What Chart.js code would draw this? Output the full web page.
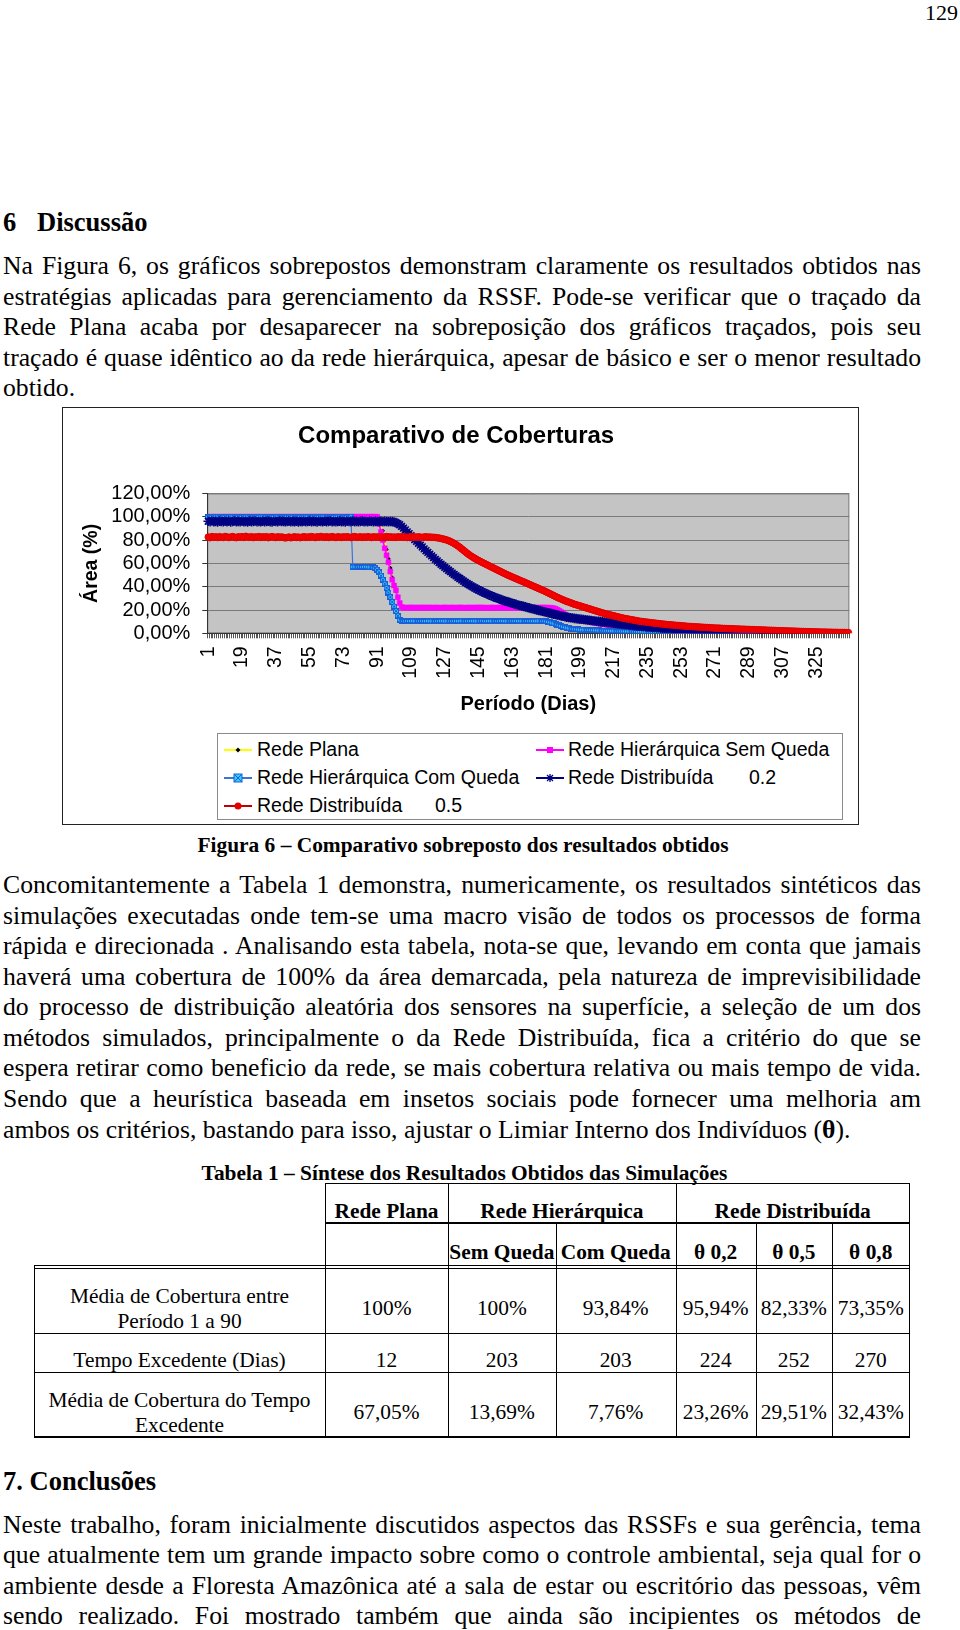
<!DOCTYPE html>
<html lang="pt">
<head>
<meta charset="utf-8">
<title>Comparativo de Coberturas</title>
<script src="https://cdn.jsdelivr.net/npm/chart.js@4.4.1/dist/chart.umd.min.js"></script>
<style>
  body { margin: 0; background: #fff; }
  #page { position: relative; width: 960px; height: 1630px; overflow: hidden; color: #000;
          font-family: "Liberation Serif", "Times New Roman", serif; }
  .ln { position: absolute; left: 3px; width: 918px; font-size: 25.7px; line-height: 1.15; transform: translateY(-50%); }
  .j { text-align: justify; text-align-last: justify; }
  .h { position: absolute; left: 3px; font-size: 26.5px; font-weight: bold; line-height: 1.15; transform: translateY(-50%); white-space: pre; }
  .cap { position: absolute; font-size: 21.4px; font-weight: bold; line-height: 1.15; transform: translate(-50%, -50%); white-space: nowrap; }
  #chartBox { position: absolute; left: 62px; top: 407px; width: 797px; height: 418px; box-sizing: border-box; border: 1px solid #222; }
  #chartWrap { position: absolute; left: 0; top: 0; width: 795px; height: 320px; }
  #legend { position: absolute; left: 217px; top: 733px; width: 626px; height: 87px; box-sizing: border-box; border: 1px solid #8a8a8a; }
  .lg { position: absolute; font-family: "Liberation Sans", Arial, sans-serif; font-size: 19.5px; line-height: 1; transform: translateY(-50%); white-space: nowrap; }
  .sym { position: absolute; width: 28px; height: 14px; transform: translateY(-50%); }
  .tl { position: absolute; background: #000; }
  .tc { position: absolute; font-size: 21.4px; line-height: 1.15; transform: translate(-50%, -50%); white-space: nowrap; text-align: center; }
  .tb { font-weight: bold; }
</style>
</head>
<body>
<div id="page">
  <div style="position:absolute; right:2px; top:0; font-size:22px; line-height:1.15;">129</div>

  <div class="h" style="top:221.5px;">6</div>
  <div class="h" style="top:221.5px; left:37px;">Discussão</div>
  <div class="ln j" style="top:266.3px;">Na Figura 6, os gráficos sobrepostos demonstram claramente os resultados obtidos nas</div>
  <div class="ln j" style="top:296.6px;">estratégias aplicadas para gerenciamento da RSSF. Pode-se verificar que o traçado da</div>
  <div class="ln j" style="top:327.3px;">Rede Plana acaba por desaparecer na sobreposição dos gráficos traçados, pois seu</div>
  <div class="ln j" style="top:357.8px;">traçado é quase idêntico ao da rede hierárquica, apesar de básico e ser o menor resultado</div>
  <div class="ln" style="top:388.2px;">obtido.</div>

  <div id="chartBox">
    <div id="chartWrap"><canvas id="coberturaChart"></canvas></div>
  </div>

  <div id="legend"></div>
  <!-- legend entries, page coordinates -->
  <svg class="sym" style="left:224px; top:750px;" viewBox="0 0 28 14"><line x1="0" y1="7" x2="28" y2="7" stroke="#ffff00" stroke-width="2"/><path d="M14 4.5 L16.5 7 L14 9.5 L11.5 7 Z" fill="#000"/></svg>
  <div class="lg" style="left:257px; top:750px;">Rede Plana</div>
  <svg class="sym" style="left:536px; top:750px;" viewBox="0 0 28 14"><line x1="0" y1="7" x2="28" y2="7" stroke="#ff00ff" stroke-width="2"/><rect x="11" y="4" width="6" height="6" fill="#ff00ff"/></svg>
  <div class="lg" style="left:568px; top:750px;">Rede Hierárquica Sem Queda</div>
  <svg class="sym" style="left:224px; top:778px;" viewBox="0 0 28 14"><line x1="0" y1="7" x2="28" y2="7" stroke="#3a74d8" stroke-width="2"/><rect x="10" y="3" width="8" height="8" fill="#33ccff" stroke="#1a5fd6" stroke-width="1"/><path d="M10 3 L18 11 M18 3 L10 11" stroke="#1a5fd6" stroke-width="1"/></svg>
  <div class="lg" style="left:257px; top:778px;">Rede Hierárquica Com Queda</div>
  <svg class="sym" style="left:536px; top:778px;" viewBox="0 0 28 14"><line x1="0" y1="7" x2="28" y2="7" stroke="#000080" stroke-width="2"/><path d="M14 3 L14 11 M10 7 L18 7 M11 4 L17 10 M17 4 L11 10" stroke="#000080" stroke-width="1.3"/></svg>
  <div class="lg" style="left:568px; top:778px;">Rede Distribuída</div>
  <div class="lg" style="left:749px; top:778px;">0.2</div>
  <svg class="sym" style="left:224px; top:806px;" viewBox="0 0 28 14"><line x1="0" y1="7" x2="28" y2="7" stroke="#c00000" stroke-width="2"/><circle cx="14" cy="7" r="3.5" fill="#e00000"/></svg>
  <div class="lg" style="left:257px; top:806px;">Rede Distribuída</div>
  <div class="lg" style="left:435px; top:806px;">0.5</div>

  <div class="cap" style="left:463px; top:845px;">Figura 6 – Comparativo sobreposto dos resultados obtidos</div>

  <div class="ln j" style="top:885px;">Concomitantemente a Tabela 1 demonstra, numericamente, os resultados sintéticos das</div>
  <div class="ln j" style="top:915.5px;">simulações executadas onde tem-se uma macro visão de todos os processos de forma</div>
  <div class="ln j" style="top:946.3px;">rápida e direcionada . Analisando esta tabela, nota-se que, levando em conta que jamais</div>
  <div class="ln j" style="top:976.8px;">haverá uma cobertura de 100% da área demarcada, pela natureza de imprevisibilidade</div>
  <div class="ln j" style="top:1007.2px;">do processo de distribuição aleatória dos sensores na superfície, a seleção de um dos</div>
  <div class="ln j" style="top:1037.9px;">métodos simulados, principalmente o da Rede Distribuída, fica a critério do que se</div>
  <div class="ln j" style="top:1068.3px;">espera retirar como beneficio da rede, se mais cobertura relativa ou mais tempo de vida.</div>
  <div class="ln j" style="top:1099.1px;">Sendo que a heurística baseada em insetos sociais pode fornecer uma melhoria am</div>
  <div class="ln" style="top:1129.6px;">ambos os critérios, bastando para isso, ajustar o Limiar Interno dos Indivíduos (<b>θ</b>).</div>

  <div class="cap" style="left:464.5px; top:1172.7px;">Tabela 1 – Síntese dos Resultados Obtidos das Simulações</div>
  <div id="table"></div>

  <div class="h" style="top:1481px;">7. Conclusões</div>
  <div class="ln j" style="top:1524.8px;">Neste trabalho, foram inicialmente discutidos aspectos das RSSFs e sua gerência, tema</div>
  <div class="ln j" style="top:1555.2px;">que atualmente tem um grande impacto sobre como o controle ambiental, seja qual for o</div>
  <div class="ln j" style="top:1585.8px;">ambiente desde a Floresta Amazônica até a sala de estar ou escritório das pessoas, vêm</div>
  <div class="ln j" style="top:1616.3px;">sendo realizado. Foi mostrado também que ainda são incipientes os métodos de</div>
</div>

<script>
// ---- chart data (Área % per day) ----
const days = Array.from({ length: 342 }, (_, k) => String(k + 1));
const tickDays = [1, 19, 37, 55, 73, 91, 109, 127, 145, 163, 181, 199, 217, 235, 253, 271, 289, 307, 325];
const yTicks = [0, 20, 40, 60, 80, 100, 120];

const redePlana = [
  100,100,100,100,100,100,100,100,100,100,
  100,100,100,100,100,100,100,100,100,100,
  100,100,100,100,100,100,100,100,100,100,
  100,100,100,100,100,100,100,100,100,100,
  100,100,100,100,100,100,100,100,100,100,
  100,100,100,100,100,100,100,100,100,100,
  100,100,100,100,100,100,100,100,100,100,
  100,100,100,100,100,100,100,100,100,100,
  100,100,100,100,100,100,100,100,100,100,
  100,99,95,88,80,72,64,56,48,42,
  36,31
];

const hierSemQueda = [
  100,100,100,100,100,100,100,100,100,100,
  100,100,100,100,100,100,100,100,100,100,
  100,100,100,100,100,100,100,100,100,100,
  100,100,100,100,100,100,100,100,100,100,
  100,100,100,100,100,100,100,100,100,100,
  100,100,100,100,100,100,100,100,100,100,
  100,100,100,100,100,100,100,100,100,100,
  100,100,100,100,100,100,100,100,100,100,
  100,100,100,100,100,100,100,100,100,100,
  100,94,87,80,73,67,61,53,46,41,
  37,31,26,22.5,22,22.1,21.9,22,22.2,22,
  22,21.9,22.1,22,22,22.2,21.9,22,22.1,22,
  21.9,22,22.1,22,21.8,22,22.2,22,21.9,22,
  22.1,22,21.9,22,22.2,22,22,21.8,22,22.1,
  22,21.9,22,22.1,22,22.2,21.9,22,22,21.8,
  22,22.1,22,21.9,22,22.2,22,21.9,22.1,22,
  21.9,22,22.1,22,21.8,22,22.2,22,21.9,22,
  22.1,22,21.9,22,22,22.1,21.9,22,22.2,22,
  22,22,21.9,21.8,21.5,21,20.3,19.4,18.4,17.3,
  16.2,15.2,14.4,13.7,13.1,12.6,12.2,11.8,11.5,11.2,
  10.9,10.6,10.3,10,9.7,9.4,9.1,8.8,8.5,8.2,
  7.9,7.7,7.5,7.3,7.1,6.9,6.7,6.5,6.3,6.1,
  5.9,5.7,5.5,5.4,5.2,5,4.9,4.7,4.6,4.4,
  4.3,4.2,4,3.9,3.8,3.7,3.5,3.4,3.3,3.2,
  3.1,3,2.9,2.8,2.7,2.6,2.5,2.4,2.3,2.2,
  2.1,2,2,1.9,1.8,1.7,1.7,1.6,1.5,1.5,
  1.4,1.3,1.3,1.2,1.2,1.1,1,1,0.9,0.9,
  0.8,0.8,0.8,0.7,0.7,0.6,0.6,0.6,0.5,0.5,
  0.5,0.4,0.4,0.4,0.3,0.3,0.3,0.3,0.2,0.2,
  0.2,0.2,0.1
];

const hierComQueda = [
  100,100,100,100,100,100,100,100,100,100,
  100,100,100,100,100,100,100,100,100,100,
  100,100,100,100,100,100,100,100,100,100,
  100,100,100,100,100,100,100,100,100,100,
  100,100,100,100,100,100,100,100,100,100,
  100,100,100,100,100,100,100,100,100,100,
  100,100,100,100,100,100,100,100,100,100,
  100,100,100,100,100,100,100,57,57.2,56.9,
  57,57.1,56.9,57,57.2,57,56.8,57,56.5,55.8,
  54.5,52.5,49.5,46,42.5,39,35,31,27,23,
  19,15,11.5,10.6,10.5,10.4,10.6,10.5,10.5,10.7,
  10.5,10.6,10.4,10.5,10.7,10.5,10.4,10.6,10.5,10.5,
  10.6,10.4,10.5,10.5,10.7,10.6,10.4,10.5,10.6,10.5,
  10.4,10.5,10.6,10.5,10.5,10.7,10.5,10.4,10.6,10.5,
  10.5,10.6,10.5,10.4,10.5,10.6,10.7,10.5,10.4,10.5,
  10.6,10.5,10.4,10.6,10.5,10.5,10.7,10.6,10.4,10.5,
  10.5,10.4,10.6,10.5,10.7,10.5,10.5,10.4,10.6,10.5,
  10.6,10.5,10.5,10.4,10.6,10.5,10.7,10.5,10.4,10.4,
  10.2,9.9,9.5,9,8.5,8,7.4,6.8,6.2,5.7,
  5.2,4.8,4.4,4.1,3.8,3.6,3.4,3.3,3.2,3.1,
  3,2.9,2.9,2.8,2.7,2.7,2.6,2.5,2.5,2.4,
  2.3,2.3,2.2,2.2,2.1,2,2,1.9,1.9,1.8,
  1.8,1.7,1.7,1.6,1.6,1.5,1.5,1.4,1.4,1.3,
  1.3,1.3,1.2,1.2,1.1,1.1,1.1,1,1,1,
  0.9,0.9,0.9,0.8,0.8,0.8,0.7,0.7,0.7,0.7,
  0.6,0.6,0.6,0.6,0.5,0.5,0.5,0.5,0.4,0.4,
  0.4,0.4,0.4,0.3,0.3,0.3,0.3,0.3,0.3,0.2,
  0.2,0.2,0.2,0.2,0.2,0.2,0.2,0.1,0.1,0.1,
  0.1,0.1,0.1,0.1,0.1,0.1,0.1,0.1,0.1,0.1,
  0.1,0.1,0
];

const dist02 = [
  96.2,95.8,96.4,95.9,96.1,95.5,96.3,96,95.7,96.2,
  95.9,96.3,95.6,96,96.4,95.8,96.1,95.7,96.2,95.9,
  96,95.6,96.3,95.9,96.1,96.4,95.7,96,95.8,96.2,
  95.7,96.1,96.3,95.9,95.6,96.2,96,95.8,96.4,96,
  96.1,95.8,96,96.3,95.7,96.1,95.9,96.2,95.6,96,
  95.9,96.2,95.7,96,96.3,95.8,96.1,96,95.6,96.2,
  96,95.7,96.2,95.9,96.1,96.4,95.8,96,95.7,96.1,
  96.3,95.9,96,95.6,96.2,96,95.8,96.3,95.9,96.1,
  95.8,96.1,96.3,95.9,96,95.7,96.2,96,95.8,96.1,
  96,95.9,96.2,95.8,96.1,96,95.7,96,95.9,95.6,
  95,94.2,93.2,91.8,90.3,88.7,87.1,85.5,83.8,82.1,
  80.5,78.9,77.3,75.7,74.1,72.5,70.9,69.4,67.9,66.4,
  64.9,63.5,62.1,60.7,59.3,58,56.7,55.4,54.1,52.9,
  51.7,50.5,49.3,48.1,47,45.9,44.8,43.7,42.7,41.7,
  40.7,39.8,38.9,38,37.2,36.4,35.6,34.8,34.1,33.4,
  32.7,32,31.3,30.7,30.1,29.5,28.9,28.3,27.8,27.3,
  26.8,26.3,25.8,25.3,24.8,24.3,23.9,23.5,23.1,22.7,
  22.2,21.8,21.3,20.9,20.5,20.1,19.7,19.3,18.9,18.5,
  18.1,17.7,17.3,16.9,16.5,16.1,15.7,15.3,14.9,14.6,
  14.2,13.9,13.6,13.3,13.1,12.8,12.6,12.4,12.2,12,
  11.8,11.6,11.4,11.2,11,10.8,10.6,10.4,10.2,10,
  9.8,9.6,9.4,9.2,9,8.8,8.6,8.4,8.2,8,
  7.8,7.6,7.4,7.3,7.1,6.9,6.7,6.6,6.4,6.2,
  6.1,5.9,5.8,5.6,5.5,5.4,5.2,5.1,5,4.8,
  4.7,4.6,4.4,4.3,4.2,4,3.9,3.8,3.6,3.5,
  3.4,3.3,3.2,3.1,3,2.9,2.8,2.7,2.6,2.5,
  2.4,2.3,2.3,2.2,2.1,2,2,1.9,1.8,1.8,
  1.7,1.6,1.6,1.5,1.5,1.4,1.4,1.3,1.3,1.2,
  1.2,1.1,1.1,1,1,1,0.9,0.9,0.9,0.8,
  0.8,0.8,0.7,0.7,0.7,0.7,0.6,0.6,0.6,0.6,
  0.5,0.5,0.5,0.5,0.5,0.4,0.4,0.4,0.4,0.4,
  0.3,0.3,0.3,0.3,0.3
];

const dist05 = [
  82.6,82.1,83,82.4,82.8,82.2,82.9,82.5,82.3,83.1,
  82.7,82.2,82.6,83,82.4,82.1,82.8,82.5,82.9,82.3,
  83.2,82.6,82.4,82.9,82.2,82.7,82.5,83,82.3,82.8,
  82.4,82.9,82.1,82.6,83,82.5,82.2,82.8,82.4,82.7,
  82.3,81.9,82.2,82.6,82,82.4,82.8,82.3,82.6,82.1,
  82.5,82.9,82.3,82.7,82.4,83,82.6,82.2,82.8,82.5,
  83.1,82.7,82.4,82.9,82.3,82.6,83,82.5,82.2,82.8,
  82.6,82.3,82.8,82.4,82.9,82.5,82.2,82.7,83,82.4,
  82.5,82.8,82.3,82.7,82.4,82.9,82.6,82.2,82.8,82.5,
  82.7,82.4,82.9,82.3,82.6,83,82.5,82.8,82.4,82.6,
  82.3,82.8,82.5,82.9,82.4,82.7,82.2,82.6,82.9,82.5,
  82.7,82.4,82.8,82.5,82.3,82.6,82.8,82.5,82.6,82.4,
  82.4,82.2,82,81.7,81.4,81,80.6,80.1,79.5,78.8,
  78,77.1,76.1,75,73.8,72.5,71.2,69.9,68.6,67.4,
  66.3,65.3,64.3,63.4,62.5,61.6,60.8,60,59.2,58.4,
  57.6,56.8,56,55.2,54.4,53.6,52.8,52,51.2,50.4,
  49.7,49,48.3,47.6,46.9,46.2,45.5,44.8,44.1,43.4,
  42.7,42,41.3,40.6,39.9,39.2,38.5,37.8,37.1,36.4,
  35.6,34.8,34,33.2,32.4,31.6,30.8,30.1,29.4,28.7,
  28,27.4,26.8,26.2,25.6,25,24.5,24,23.5,23,
  22.5,22,21.5,21,20.5,20,19.5,19,18.5,18,
  17.5,17,16.6,16.2,15.8,15.4,15,14.6,14.2,13.8,
  13.4,13,12.7,12.4,12.1,11.8,11.5,11.2,10.9,10.6,
  10.3,10.1,9.9,9.7,9.5,9.3,9.1,8.9,8.7,8.5,
  8.3,8.1,7.9,7.8,7.6,7.4,7.3,7.1,7,6.8,
  6.7,6.6,6.4,6.3,6.2,6,5.9,5.8,5.7,5.6,
  5.5,5.4,5.3,5.2,5.1,5,4.9,4.8,4.7,4.6,
  4.5,4.4,4.4,4.3,4.2,4.1,4.1,4,3.9,3.9,
  3.8,3.7,3.7,3.6,3.5,3.5,3.4,3.3,3.3,3.2,
  3.1,3.1,3,2.9,2.9,2.8,2.8,2.7,2.6,2.6,
  2.5,2.5,2.4,2.3,2.3,2.2,2.2,2.1,2,2,
  1.9,1.9,1.8,1.8,1.7,1.6,1.6,1.5,1.5,1.4,
  1.4,1.3,1.3,1.2,1.2,1.1,1.1,1,1,1,
  0.9,0.9,0.9,0.8,0.8,0.8,0.7,0.7,0.7,0.7,
  0.6,0.6
];

// ---- table data ----
const tabHead1 = ['Rede Plana', 'Rede Hierárquica', 'Rede Distribuída'];
const tabHead2 = ['Sem Queda', 'Com Queda', 'θ 0,2', 'θ 0,5', 'θ 0,8'];
const rowLabels = [['Média de Cobertura entre', 'Período 1 a 90'], ['Tempo Excedente (Dias)'], ['Média de Cobertura do Tempo', 'Excedente']];
const mediaCobertura = ['100%', '100%', '93,84%', '95,94%', '82,33%', '73,35%'];
const tempoExcedente = ['12', '203', '203', '224', '252', '270'];
const mediaExcedente = ['67,05%', '13,69%', '7,76%', '23,26%', '29,51%', '32,43%'];

// ---- markers ----
function boxCross(size, fill, edge) {
  const c = document.createElement('canvas');
  c.width = c.height = size;
  const g = c.getContext('2d');
  g.fillStyle = fill;
  g.fillRect(0, 0, size, size);
  g.strokeStyle = edge;
  g.lineWidth = 1;
  g.strokeRect(0.5, 0.5, size - 1, size - 1);
  g.beginPath();
  g.moveTo(0, 0); g.lineTo(size, size);
  g.moveTo(size, 0); g.lineTo(0, size);
  g.stroke();
  return c;
}

const plotBg = {
  id: 'plotBg',
  beforeDraw(chart) {
    const { ctx, chartArea: a } = chart;
    ctx.save();
    ctx.fillStyle = '#c4c4c4';
    ctx.fillRect(a.left, a.top, a.right - a.left, a.bottom - a.top);
    ctx.strokeStyle = '#808080';
    ctx.lineWidth = 1;
    ctx.strokeRect(a.left + 0.5, a.top + 0.5, a.right - a.left - 1, a.bottom - a.top - 1);
    ctx.restore();
  }
};

Chart.defaults.font.family = '"Liberation Sans", Arial, sans-serif';
Chart.defaults.color = '#000';

const ctx = document.getElementById('coberturaChart').getContext('2d');

new Chart(ctx, {
  type: 'line',
  data: {
    labels: days,
    datasets: [
      {
        label: 'Rede Plana', data: redePlana, order: 5,
        borderColor: '#ffff00', borderWidth: 1.5,
        pointStyle: 'rectRot', pointRadius: 2.2, pointBackgroundColor: '#000', pointBorderColor: '#000', pointBorderWidth: 0
      },
      {
        label: 'Rede Hierárquica Sem Queda', data: hierSemQueda, order: 4,
        borderColor: '#ff00ff', borderWidth: 1.5,
        pointStyle: 'rect', pointRadius: 3.5, pointBackgroundColor: '#ff00ff', pointBorderColor: '#ff00ff', pointBorderWidth: 0.5
      },
      {
        label: 'Rede Hierárquica Com Queda', data: hierComQueda, order: 3,
        borderColor: '#3a74d8', borderWidth: 1.2,
        pointStyle: boxCross(6, '#33ccff', '#1a5fd6'), pointRadius: 3
      },
      {
        label: 'Rede Distribuída 0.2', data: dist02, order: 2,
        borderColor: '#000080', borderWidth: 1.5,
        pointStyle: 'star', pointRadius: 4.8, pointBackgroundColor: '#000080', pointBorderColor: '#000080', pointBorderWidth: 1.5
      },
      {
        label: 'Rede Distribuída 0.5', data: dist05, order: 1,
        borderColor: '#c00000', borderWidth: 1.5,
        pointStyle: 'circle', pointRadius: 3.3, pointBackgroundColor: '#ff0000', pointBorderColor: '#e00000', pointBorderWidth: 1
      }
    ]
  },
  options: {
    responsive: true,
    maintainAspectRatio: false,
    animation: false,
    layout: { padding: { left: 0, right: 8.7, top: 0, bottom: 0 } },
    plugins: {
      legend: { display: false },
      tooltip: { enabled: false },
      title: {
        display: true,
        text: 'Comparativo de Coberturas',
        color: '#000',
        font: { size: 24, weight: 'bold' },
        padding: { top: 14.3, bottom: 42.4 }
      }
    },
    scales: {
      x: {
        type: 'category',
        offset: true,
        grid: { display: true, drawOnChartArea: false, drawTicks: true, tickLength: 5, offset: true, color: '#555' },
        border: { display: true, color: '#333' },
        ticks: {
          autoSkip: false,
          minRotation: 90,
          maxRotation: 90,
          padding: 8,
          color: '#000',
          font: { size: 19.5 },
          callback: (value, index) => tickDays.includes(index + 1) ? days[index] : ''
        },
        title: { display: true, text: 'Período (Dias)', color: '#000', font: { size: 20, weight: 'bold' }, padding: { top: 0, bottom: 11.6 } },
        afterFit: (scale) => {
          scale.height = 94.7;
          scale.paddingLeft = 0;
          scale.paddingRight = 0;
        }
      },
      y: {
        min: 0,
        max: 120,
        afterBuildTicks: (scale) => { scale.ticks = yTicks.map(v => ({ value: v })); },
        ticks: {
          autoSkip: false,
          padding: 12,
          color: '#000',
          font: { size: 20 },
          callback: (v) => v.toFixed(2).replace('.', ',') + '%'
        },
        grid: { color: '#7a7a7a', tickColor: '#333', tickLength: 5 },
        border: { color: '#333' },
        title: { display: true, text: 'Área (%)', color: '#000', font: { size: 19.5, weight: 'bold' }, padding: { top: 16.8, bottom: 0 } },
        afterFit: (scale) => {
          scale.width = 144.3;
          scale.paddingTop = 0;
          scale.paddingBottom = 0;
        }
      }
    }
  },
  plugins: [plotBg]
});

// ---- table ----
const tbl = document.getElementById('table');
function line(x, y, w, h) {
  const d = document.createElement('div');
  d.className = 'tl';
  d.style.cssText = `left:${x}px;top:${y}px;width:${w}px;height:${h}px;`;
  tbl.appendChild(d);
}
function cell(text, x, y, bold) {
  const d = document.createElement('div');
  d.className = 'tc' + (bold ? ' tb' : '');
  d.style.left = x + 'px';
  d.style.top = y + 'px';
  d.textContent = text;
  tbl.appendChild(d);
}

const colEdges = [325, 448, 555.7, 675.7, 755.7, 832, 909.5];
const colMid = colEdges.slice(0, -1).map((e, k) => (e + colEdges[k + 1]) / 2);

// horizontal rules
line(325, 1183, 585, 1);
line(325, 1222, 585, 2);
line(34, 1264.5, 876, 1);
line(34, 1267.5, 876, 1);
line(34, 1332.5, 876, 1);
line(34, 1371.5, 876, 1);
line(34, 1436, 876, 1.5);
// vertical rules
line(34, 1264.5, 1, 173);
[325, 448, 675.7, 909].forEach(x => line(x, 1183, 1, 254));
[555.7, 755.7, 832].forEach(x => line(x, 1222, 1, 215));

cell(tabHead1[0], colMid[0], 1210.7, true);
cell(tabHead1[1], (448 + 675.7) / 2, 1210.7, true);
cell(tabHead1[2], (675.7 + 909.5) / 2, 1210.7, true);
tabHead2.forEach((t, k) => cell(t, colMid[k + 1], 1251.7, true));

const rowY = [1308, 1360, 1412];
const rowLabelY = [[1296, 1321], [1360], [1400, 1425]];
[mediaCobertura, tempoExcedente, mediaExcedente].forEach((vals, r) => {
  rowLabels[r].forEach((t, k) => cell(t, 179.5, rowLabelY[r][k], false));
  vals.forEach((v, k) => cell(v, colMid[k], rowY[r], false));
});
</script>
</body>
</html>
